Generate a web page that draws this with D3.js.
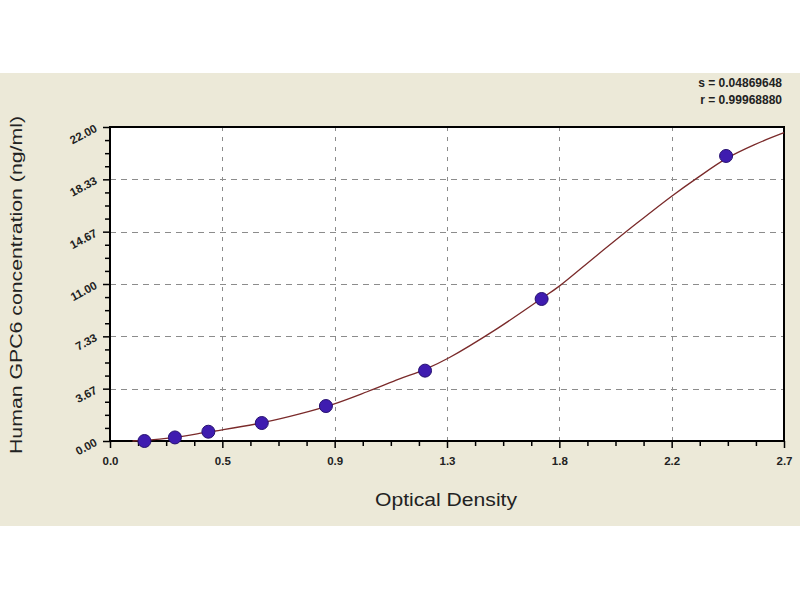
<!DOCTYPE html>
<html><head><meta charset="utf-8">
<script src="https://cdn.jsdelivr.net/npm/d3@7"></script>
<style>html,body{margin:0;padding:0;background:#fff}svg{display:block}</style>
</head><body>
<svg id="c" width="800" height="600"></svg>
<script>
// Data
const xTicks = [0, 0.45, 0.9, 1.35, 1.8, 2.25, 2.7];
const xTickLabels = ["0.0", "0.5", "0.9", "1.3", "1.8", "2.2", "2.7"];
const yTicks = [0, 3.667, 7.333, 11, 14.667, 18.333, 22];
const yTickLabels = ["0.00", "3.67", "7.33", "11.00", "14.67", "18.33", "22.00"];
const pointOD = [0.138, 0.26, 0.394, 0.608, 0.865, 1.262, 1.729, 2.468];
const pointConc = [0.0, 0.25, 0.65, 1.26, 2.45, 4.93, 9.95, 19.97];
const curveOD = [0.09, 0.14, 0.26, 0.39, 0.45, 0.61, 0.76, 0.89, 1.03, 1.16, 1.26, 1.36, 1.54, 1.73, 1.8, 1.95, 2.11, 2.25, 2.35, 2.47, 2.58, 2.7];
const curveConc = [0.0, 0.04, 0.26, 0.62, 0.78, 1.28, 1.9, 2.55, 3.45, 4.35, 5.0, 5.85, 7.75, 10.0, 10.85, 13.0, 15.25, 17.15, 18.4, 19.8, 20.75, 21.6];
const statLines = ["s = 0.04869648", "r = 0.99968880"];
const xTitle = "Optical Density";
const yTitle = "Human GPC6 concentration (ng/ml)";

const svg = d3.select("#c");
const L = 110, R = 784, T = 127, B = 441;
const x = d3.scaleLinear().domain([0, 2.7]).range([L, R]);
const y = d3.scaleLinear().domain([0, 22]).range([B, T]);

// panel background
svg.append("rect").attr("x", 0).attr("y", 73).attr("width", 800).attr("height", 453).attr("fill", "#ECE9D8");
svg.append("rect").attr("x", L).attr("y", T).attr("width", R - L).attr("height", B - T).attr("fill", "#fff");

// grid
const grid = svg.append("g").attr("stroke", "#8c8c8c").attr("stroke-width", 1).attr("stroke-dasharray", "6,5");
grid.selectAll(".gx").data(xTicks.slice(1, -1)).enter().append("line")
  .attr("x1", d => Math.round(x(d)) + 0.5).attr("x2", d => Math.round(x(d)) + 0.5)
  .attr("y1", T).attr("y2", B).attr("stroke-dasharray", "4,6");
grid.selectAll(".gy").data(yTicks.slice(1, -1)).enter().append("line")
  .attr("y1", d => Math.round(y(d)) + 0.5).attr("y2", d => Math.round(y(d)) + 0.5)
  .attr("x1", L).attr("x2", R);

// minor ticks
const minorX = [];
for (let i = 0; i < xTicks.length - 1; i++) for (let k = 1; k < 4; k++) minorX.push(xTicks[i] + (xTicks[i + 1] - xTicks[i]) * k / 4);
const minorY = [];
for (let i = 0; i < yTicks.length - 1; i++) for (let k = 1; k < 4; k++) minorY.push(yTicks[i] + (yTicks[i + 1] - yTicks[i]) * k / 4);

const xAxis = d3.axisBottom(x).tickValues(xTicks).tickSize(7).tickFormat((d, i) => xTickLabels[i]);
const gx = svg.append("g").attr("transform", `translate(0,${B})`).call(xAxis);
gx.select(".domain").remove();
gx.selectAll("line").attr("stroke", "#000").attr("stroke-width", 1.5);
gx.selectAll("text").attr("dy", "1.25em").attr("font-family", "Liberation Sans Narrow, Liberation Sans, Arial").attr("font-weight", "bold").attr("font-size", 11.5).attr("fill", "#222");
const gxm = svg.append("g").attr("transform", `translate(0,${B})`).call(d3.axisBottom(x).tickValues(minorX).tickSize(5).tickFormat(""));
gxm.select(".domain").remove();
gxm.selectAll("line").attr("stroke", "#000").attr("stroke-width", 1.5);

const yAxis = d3.axisLeft(y).tickValues(yTicks).tickSize(7).tickFormat("");
const gy = svg.append("g").attr("transform", `translate(${L},0)`).call(yAxis);
gy.select(".domain").remove();
gy.selectAll("line").attr("stroke", "#000").attr("stroke-width", 1.5);
const gym = svg.append("g").attr("transform", `translate(${L},0)`).call(d3.axisLeft(y).tickValues(minorY).tickSize(5).tickFormat(""));
gym.select(".domain").remove();
gym.selectAll("line").attr("stroke", "#000").attr("stroke-width", 1.5);

// rotated y tick labels
svg.append("g").selectAll("text").data(yTicks).enter().append("text")
  .attr("transform", d => `translate(${L - 12},${y(d) + 4}) rotate(-28)`)
  .attr("text-anchor", "end")
  .attr("font-family", "Liberation Sans Narrow, Liberation Sans, Arial").attr("font-weight", "bold").attr("font-size", 11.5).attr("fill", "#222")
  .text((d, i) => yTickLabels[i]);

// frame
svg.append("rect").attr("x", L).attr("y", T).attr("width", R - L).attr("height", B - T)
  .attr("fill", "none").attr("stroke", "#000").attr("stroke-width", 2);

// curve
const curveData = curveOD.map((d, i) => [d, curveConc[i]]);
svg.append("path").datum(curveData)
  .attr("d", d3.line().x(d => x(d[0])).y(d => y(d[1])).curve(d3.curveCatmullRom.alpha(0.5)))
  .attr("fill", "none").attr("stroke", "#7a2a2a").attr("stroke-width", 1.3);

// points
svg.append("g").selectAll("circle").data(pointOD).enter().append("circle")
  .attr("cx", d => x(d)).attr("cy", (d, i) => y(pointConc[i])).attr("r", 6.5)
  .attr("fill", "#3f1cb0").attr("stroke", "#261070").attr("stroke-width", 1);

// titles
svg.append("text").attr("x", 446).attr("y", 506).attr("text-anchor", "middle")
  .attr("font-family", "Liberation Sans, Arial").attr("font-size", 18).attr("fill", "#222")
  .attr("textLength", 142).attr("lengthAdjust", "spacingAndGlyphs").text(xTitle);
svg.append("text").attr("transform", "translate(22,285) rotate(-90)").attr("text-anchor", "middle")
  .attr("font-family", "Liberation Sans, Arial").attr("font-size", 16).attr("fill", "#222")
  .attr("textLength", 338).attr("lengthAdjust", "spacingAndGlyphs").text(yTitle);

// stats
svg.append("g").selectAll("text").data(statLines).enter().append("text")
  .attr("x", 782).attr("y", (d, i) => 87 + i * 17).attr("text-anchor", "end")
  .attr("font-family", "Liberation Sans Narrow, Liberation Sans, Arial").attr("font-weight", "bold").attr("font-size", 12).attr("fill", "#222")
  .text(d => d);
</script>
</body></html>
